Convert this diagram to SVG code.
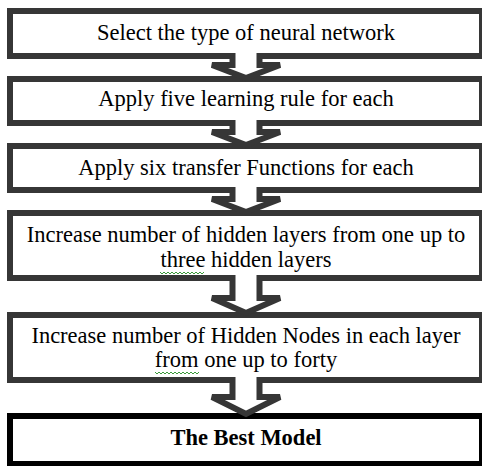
<svg xmlns="http://www.w3.org/2000/svg" width="482" height="466" viewBox="0 0 482 466">
  <style>
    .box { fill: #ffffff; stroke: #363636; stroke-width: 6; }
    .final { fill: #ffffff; stroke: #000000; stroke-width: 6; }
    .arrow { fill: #ffffff; stroke: #363636; stroke-width: 6; stroke-linejoin: miter; stroke-miterlimit: 4; }
    .t { font-family: "Liberation Serif", "Times New Roman", serif; font-size: 22.5px; fill: #000000; text-anchor: middle; }
    .b { font-weight: bold; }
    .sq { fill: none; stroke: #3a9a3a; stroke-width: 1; }
  </style>
  <rect width="482" height="466" fill="#ffffff"/>
  <g id="node1">
    <rect class="box" x="10" y="11" width="472" height="45"/>
    <text class="t" x="246" y="40">Select the type of neural network</text>
  </g>
  <g id="node2">
    <rect class="box" x="10" y="79" width="472" height="44"/>
    <text class="t" x="246" y="106">Apply five learning rule for each</text>
  </g>
  <g id="node3">
    <rect class="box" x="10" y="146" width="472" height="44"/>
    <text class="t" x="246" y="175">Apply six transfer Functions for each</text>
  </g>
  <g id="node4">
    <rect class="box" x="10" y="213" width="472" height="65"/>
    <text class="t" x="246" y="242">Increase number of hidden layers from one up to</text>
    <text class="t" x="246" y="267">three hidden layers</text>
    <polyline class="sq" points="160,272 162,274 164,272 166,274 168,272 170,274 172,272 174,274 176,272 178,274 180,272 182,274 184,272 186,274 188,272 190,274 192,272 194,274 196,272 198,274 200,272 202,274 204,272"/>
  </g>
  <g id="node5">
    <rect class="box" x="10" y="315" width="472" height="65"/>
    <text class="t" x="246" y="343">Increase number of Hidden Nodes in each layer</text>
    <text class="t" x="246" y="367">from one up to forty</text>
    <polyline class="sq" points="155,372 157,374 159,372 161,374 163,372 165,374 167,372 169,374 171,372 173,374 175,372 177,374 179,372 181,374 183,372 185,374 187,372 189,374 191,372 193,374 195,372 197,374 199,372"/>
  </g>
  <g id="node6">
    <rect class="final" x="10" y="416" width="472" height="48"/>
    <text class="t b" x="246" y="445">The Best Model</text>
  </g>
  <g id="connectors">
    <path class="arrow" d="M232.5,53 V65 H212 L246,78 L280,65 H259.5 V53"/>
    <path class="arrow" d="M232.5,120 V132 H212 L246,145 L280,132 H259.5 V120"/>
    <path class="arrow" d="M232.5,187 V199 H212 L246,212 L280,199 H259.5 V187"/>
    <path class="arrow" d="M232.5,275 V298 H212 L246,313 L280,298 H259.5 V275"/>
    <path class="arrow" d="M232.5,377 V397 H212 L246,414 L280,397 H259.5 V377"/>
  </g>
</svg>
